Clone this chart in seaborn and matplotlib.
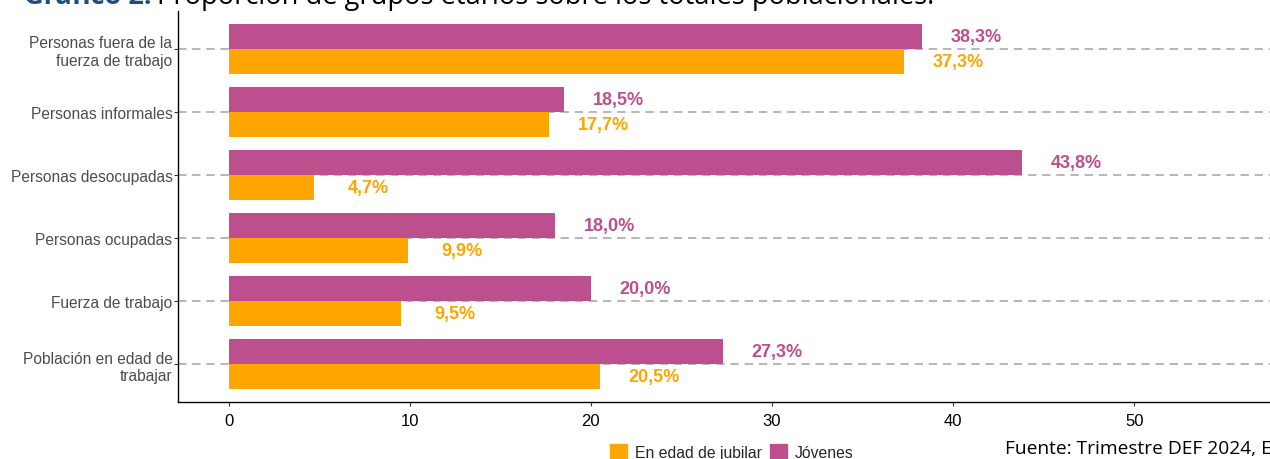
import pandas as pd
import seaborn as sns
import matplotlib.pyplot as plt
import matplotlib.patches as mpatches

# data (top to bottom)
categories = ['Personas fuera de la\nfuerza de trabajo', 'Personas informales',
              'Personas desocupadas', 'Personas ocupadas', 'Fuerza de trabajo',
              'Población en edad de\ntrabajar']
jovenes = [38.3, 18.5, 43.8, 18.0, 20.0, 27.3]
jubilar = [37.3, 17.7, 4.7, 9.9, 9.5, 20.5]
series_names = ['Jóvenes', 'En edad de jubilar']

colors = {'Jóvenes': '#BD4F8E', 'En edad de jubilar': '#FFA500'}

df = pd.DataFrame({
    'categoria': categories * 2,
    'grupo': [series_names[0]] * len(categories) + [series_names[1]] * len(categories),
    'valor': jovenes + jubilar,
})

sns.set_style('white')
plt.rcParams['font.family'] = ['Liberation Sans', 'DejaVu Sans']

fig = plt.figure(figsize=(12.7, 4.6), dpi=100)
ax = fig.add_axes([178 / 1270, 57 / 460, 1092 / 1270, 391 / 460])

# dashed guide lines behind the bars
for i in range(len(categories)):
    ax.axhline(i, color='#AAAAAA', linestyle=(0, (5, 3.5)), linewidth=1.2, zorder=0)

sns.barplot(data=df, y='categoria', x='valor', hue='grupo', hue_order=series_names,
            order=categories, palette=colors, orient='h', width=0.8,
            saturation=1, edgecolor='none', legend=False, ax=ax, zorder=2)

# value labels
for i, (vj, vr) in enumerate(zip(jovenes, jubilar)):
    ax.text(vj + 3, i - 0.2, f'{vj:.1f}%'.replace('.', ','), color=colors['Jóvenes'],
            fontsize=13, fontweight='bold', ha='center', va='center')
    ax.text(vr + 3, i + 0.2, f'{vr:.1f}%'.replace('.', ','), color=colors['En edad de jubilar'],
            fontsize=13, fontweight='bold', ha='center', va='center')

ax.set_xlim(-2.8, 57.5)
ax.set_ylim(5.6, -0.6)
ax.set_xticks([0, 10, 20, 30, 40, 50])
ax.set_xlabel('')
ax.set_ylabel('')
ax.tick_params(axis='y', labelsize=11.2, labelcolor='#4D4D4D', length=3, width=0.8,
               color='#333333', pad=1, left=True)
ax.tick_params(axis='x', labelsize=12, labelcolor='black', length=3, width=0.8,
               color='#333333', pad=5, bottom=True)
for lbl in ax.get_yticklabels():
    lbl.set_multialignment('right')
for side in ['top', 'right']:
    ax.spines[side].set_visible(False)
for side in ['left', 'bottom']:
    ax.spines[side].set_color('black')
    ax.spines[side].set_linewidth(1.0)

# legend
handles = [mpatches.Patch(color=colors['En edad de jubilar'], label='En edad de jubilar'),
           mpatches.Patch(color=colors['Jóvenes'], label='Jóvenes')]
fig.legend(handles=handles, loc='center', bbox_to_anchor=(732 / 1270, 1 - 453 / 460),
           ncol=2, frameon=False, fontsize=11.3, handlelength=1.1, handleheight=1.2,
           handletextpad=0.5, columnspacing=0.5)

# title (clipped at the top in the reference) and source
fig.text(152 / 1270, 1 - 4 / 460, 'Gráfico 2:', color='#1F4E79', fontsize=19.5,
         fontweight='bold', family='Open Sans', va='baseline', ha='right')
fig.text(157 / 1270, 1 - 4 / 460, 'Proporción de grupos etarios sobre los totales poblacionales.',
         color='black', fontsize=19.6, family='Open Sans', va='baseline', ha='left')
fig.text(1005 / 1270, 1 - 449 / 460, 'Fuente: Trimestre DEF 2024, EPH-INDEC.',
         color='black', fontsize=13.8, family='Open Sans', va='center', ha='left')

plt.savefig('out.png', dpi=100)
plt.close()
